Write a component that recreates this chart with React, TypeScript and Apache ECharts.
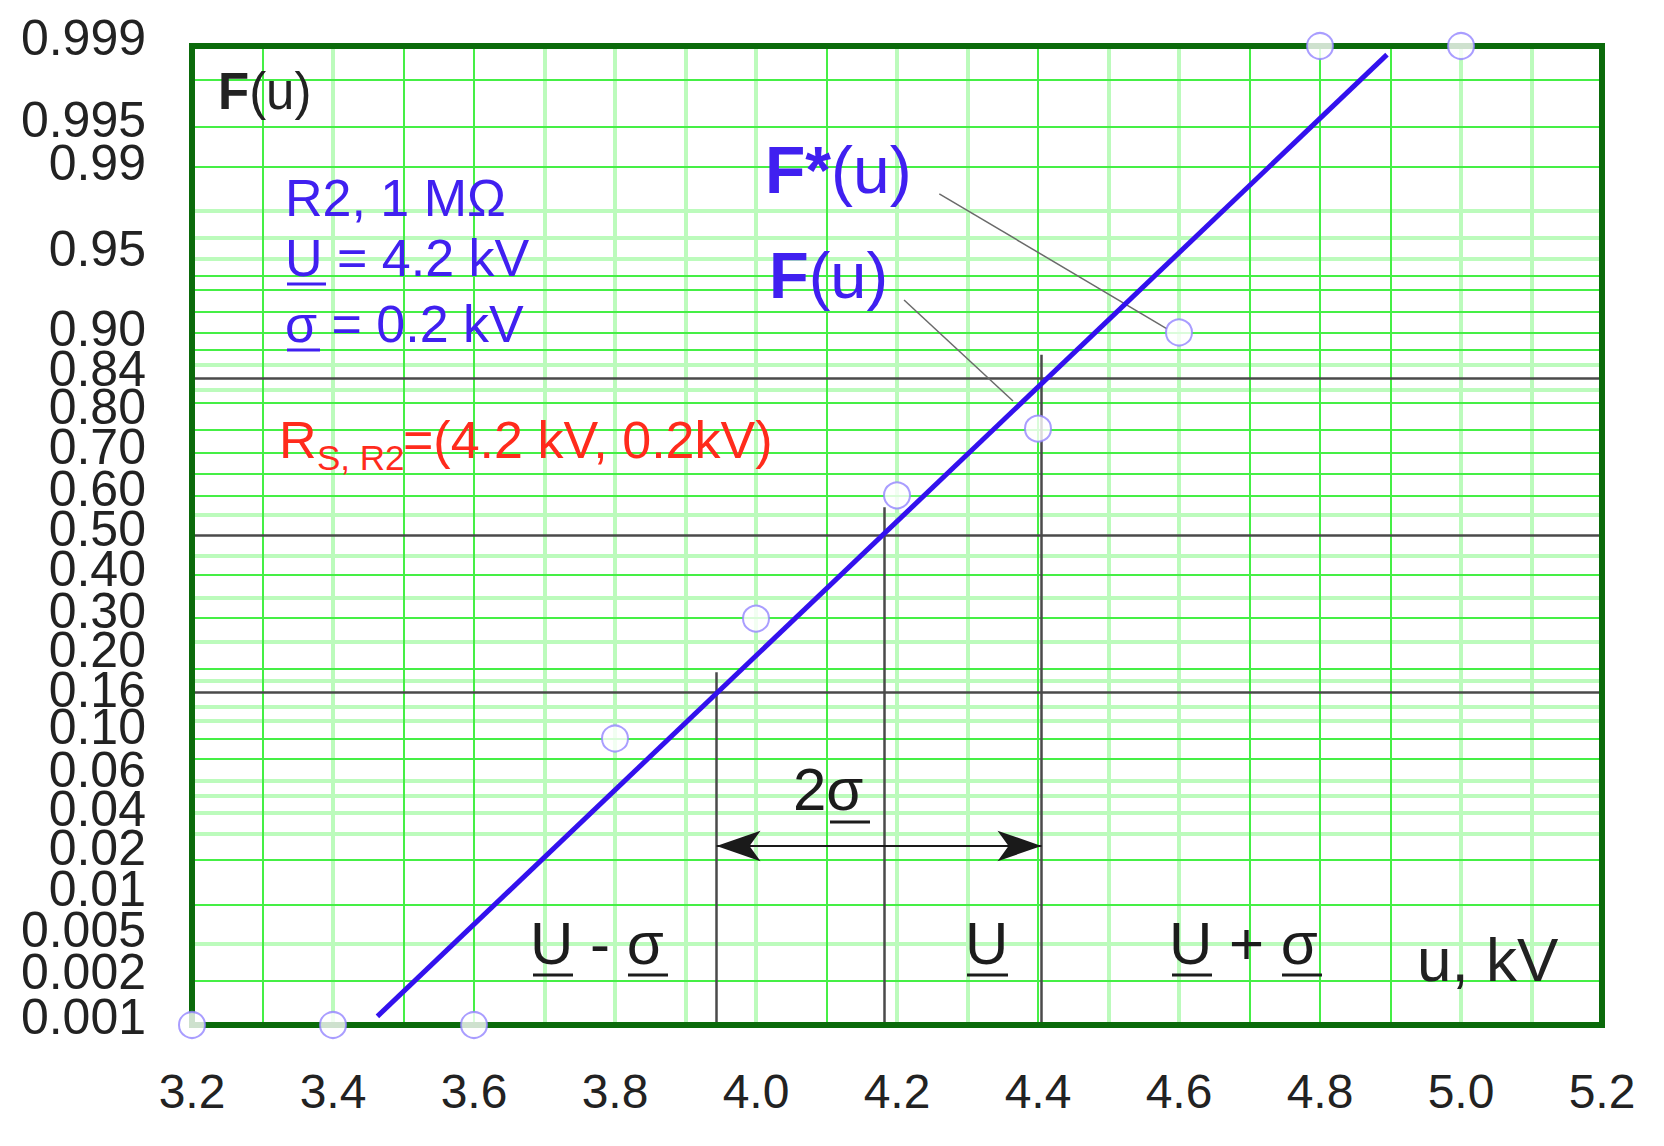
import React, { useEffect, useRef } from "react";
import * as echarts from "echarts";

// ---------- data ----------
const X_MIN = 3.2;
const X_MAX = 5.2;
const X_STEP = 0.2;

// measured points: voltage u (kV) and empirical probability F*(u)
const pointsU = [3.2, 3.4, 3.6, 3.8, 4.0, 4.2, 4.4, 4.6, 4.8, 5.0];
const pointsF = [0.001, 0.001, 0.001, 0.1, 0.3, 0.6, 0.75, 0.9, 0.999, 0.999];

// fitted line F(u): end points as drawn
const lineU = [3.463, 4.895];
const lineF = [0.0012, 0.9988];

// probability-paper range
const P_MIN = 0.001;
const P_MAX = 0.999;

// y tick labels (text) and where they are printed (probit units)
const yLabelText = ["0.999", "0.995", "0.99", "0.95", "0.90", "0.84", "0.80", "0.70", "0.60", "0.50", "0.40", "0.30", "0.20", "0.16", "0.10", "0.06", "0.04", "0.02", "0.01", "0.005", "0.002", "0.001"];
const yLabelZ = [3.0902, 2.623, 2.352, 1.809, 1.304, 1.051, 0.811, 0.559, 0.294, 0.041, -0.211, -0.476, -0.723, -0.975, -1.209, -1.48, -1.727, -1.973, -2.232, -2.491, -2.756, -3.04];

// horizontal grid lines (probabilities)
const hGridBright = [0.998, 0.995, 0.99, 0.95, 0.94, 0.92, 0.9, 0.88, 0.8, 0.75, 0.7, 0.65, 0.6, 0.4, 0.3, 0.2, 0.1, 0.08, 0.02, 0.01, 0.0025];
const hGridFaint = [0.98, 0.97, 0.96, 0.86, 0.82, 0.55, 0.45, 0.35, 0.25, 0.18, 0.14, 0.12, 0.06, 0.05, 0.04, 0.03, 0.005];
// vertical grid lines (kV)
const vGridBright = [3.3, 3.5, 3.6, 4.1, 4.4, 4.7, 4.8, 4.9];
const vGridFaint = [3.4, 3.7, 3.8, 3.9, 4.0, 4.2, 4.3, 4.5, 4.6, 5.0, 5.1];

// reference lines
const refHP = [0.84, 0.5, 0.16];
const refVU = [3.944, 4.182, 4.405]; // U - σ, U, U + σ as drawn
const refVTopP = [0.194, 0.571, 0.873];
const arrowP = 0.025;

// leader lines [u1, p1, u2, p2]
const leaderFstar = [4.26, 0.9845, 4.583, 0.904];
const leaderF = [4.21, 0.9315, 4.3645, 0.802];

// ---------- helpers ----------
function probit(p: number): number {
  const a = [-3.969683028665376e1, 2.209460984245205e2, -2.759285104469687e2, 1.38357751867269e2, -3.066479806614716e1, 2.506628277459239];
  const b = [-5.447609879822406e1, 1.615858368580409e2, -1.556989798598866e2, 6.680131188771972e1, -1.328068155288572e1];
  const c = [-7.784894002430293e-3, -3.223964580411365e-1, -2.400758277161838, -2.549732539343734, 4.374664141464968, 2.938163982698783];
  const d = [7.784695709041462e-3, 3.224671290700398e-1, 2.445134137142996, 3.754408661907416];
  const pl = 0.02425;
  if (p < pl) {
    const q = Math.sqrt(-2 * Math.log(p));
    return (((((c[0] * q + c[1]) * q + c[2]) * q + c[3]) * q + c[4]) * q + c[5]) / ((((d[0] * q + d[1]) * q + d[2]) * q + d[3]) * q + 1);
  }
  if (p <= 1 - pl) {
    const q = p - 0.5;
    const r = q * q;
    return ((((((a[0] * r + a[1]) * r + a[2]) * r + a[3]) * r + a[4]) * r + a[5]) * q) / (((((b[0] * r + b[1]) * r + b[2]) * r + b[3]) * r + b[4]) * r + 1);
  }
  const q = Math.sqrt(-2 * Math.log(1 - p));
  return -(((((c[0] * q + c[1]) * q + c[2]) * q + c[3]) * q + c[4]) * q + c[5]) / ((((d[0] * q + d[1]) * q + d[2]) * q + d[3]) * q + 1);
}

const FONT = "'Liberation Sans', Arial, Helvetica, sans-serif";
const FRAME = "#0b6a0b";
const BLUE = "#4020f0";
const LINE_BLUE = "#3311ee";
const RED = "#ff2b1c";
const DARK = "#1c1c1c";

const GRID_LEFT = 192;
const GRID_RIGHT = 62;
const GRID_TOP = 46;
const GRID_BOTTOM = 121;

function txt(x: number, y: number, text: string, size: number, color: string, weight = "normal") {
  return {
    type: "text",
    x,
    y,
    z: 30,
    silent: true,
    style: { text, fontSize: size, fontFamily: FONT, fontWeight: weight, fill: color, align: "left", verticalAlign: "middle" },
  };
}
function richTxt(x: number, y: number, text: string, size: number, color: string) {
  return {
    type: "text",
    x,
    y,
    z: 30,
    silent: true,
    style: {
      text,
      fill: color,
      align: "left",
      verticalAlign: "middle",
      fontSize: size,
      fontFamily: FONT,
      rich: {
        b: { fontSize: size, fontFamily: FONT, fontWeight: "bold", fill: color },
        n: { fontSize: size, fontFamily: FONT, fontWeight: "normal", fill: color },
      },
    },
  };
}
function uline(x1: number, x2: number, y: number, color: string, w = 3) {
  return { type: "line", z: 30, silent: true, shape: { x1, y1: y, x2, y2: y }, style: { stroke: color, lineWidth: w } };
}

export default function App() {
  const ref = useRef<HTMLDivElement>(null);

  useEffect(() => {
    if (!ref.current) return;
    const chart = echarts.init(ref.current, null, { renderer: "svg" });

    const yMin = probit(P_MIN);
    const yMax = probit(P_MAX);

    const labelFor = (v: number) => {
      let best = 0;
      for (let i = 1; i < yLabelZ.length; i++) {
        if (Math.abs(yLabelZ[i] - v) < Math.abs(yLabelZ[best] - v)) best = i;
      }
      const t = yLabelText[best];
      return best === 0 ? "{t|" + t + "}" : t;
    };

    // the crowded labels are split over two overlaid axes so that none is dropped
    const zEven = yLabelZ.filter((_, i) => i % 2 === 0);
    const zOdd = yLabelZ.filter((_, i) => i % 2 === 1);

    const hiddenAxisBits = {
      axisTick: { show: false },
      splitLine: { show: false },
      axisLabel: { show: false },
    };
    const frameLine = { show: true, onZero: false, lineStyle: { color: FRAME, width: 6, cap: "square" } };

    const yLabelStyle = (values: number[]) => ({
      customValues: values,
      showMinLabel: true,
      showMaxLabel: true,
      hideOverlap: false,
      margin: 46,
      fontSize: 50,
      color: "#222",
      fontFamily: FONT,
      formatter: labelFor,
      rich: { t: { fontSize: 50, color: "#222", fontFamily: FONT, padding: [0, 0, 17, 0] } },
    });

    const mlBase = { silent: true, symbol: "none", label: { show: false }, emphasis: { disabled: true }, animation: false };

    const option: any = {
      animation: false,
      backgroundColor: "#ffffff",
      grid: { left: GRID_LEFT, right: GRID_RIGHT, top: GRID_TOP, bottom: GRID_BOTTOM, outerBoundsMode: "none" },
      xAxis: [
        {
          type: "value",
          min: X_MIN,
          max: X_MAX,
          interval: X_STEP,
          position: "bottom",
          z: 10,
          axisLine: frameLine,
          axisTick: { show: false },
          splitLine: { show: false },
          axisLabel: { margin: 42, fontSize: 48, color: "#222", fontFamily: FONT, showMinLabel: true, showMaxLabel: true, formatter: (v: number) => v.toFixed(1) },
        },
        { type: "value", min: X_MIN, max: X_MAX, position: "top", z: 10, axisLine: frameLine, ...hiddenAxisBits },
      ],
      yAxis: [
        {
          type: "value",
          min: yMin,
          max: yMax,
          position: "left",
          offset: 0,
          z: 10,
          axisLine: frameLine,
          axisTick: { show: false },
          splitLine: { show: false },
          axisLabel: yLabelStyle(zEven),
        },
        { type: "value", min: yMin, max: yMax, position: "right", z: 10, axisLine: frameLine, ...hiddenAxisBits },
        {
          type: "value",
          min: yMin,
          max: yMax,
          position: "left",
          offset: 0,
          z: 10,
          axisLine: { show: false },
          axisTick: { show: false },
          splitLine: { show: false },
          axisLabel: yLabelStyle(zOdd),
        },
      ],
      series: [
        {
          name: "gridFaint",
          type: "line",
          data: [],
          z: 1,
          silent: true,
          markLine: {
            ...mlBase,
            lineStyle: { color: "#bcfbbc", width: 4, type: "solid" },
            data: [...hGridFaint.map((p) => ({ yAxis: probit(p) })), ...vGridFaint.map((u) => ({ xAxis: u }))],
          },
        },
        {
          name: "gridBright",
          type: "line",
          data: [],
          z: 2,
          silent: true,
          markLine: {
            ...mlBase,
            lineStyle: { color: "#45ef45", width: 2, type: "solid" },
            data: [...hGridBright.map((p) => ({ yAxis: probit(p) })), ...vGridBright.map((u) => ({ xAxis: u }))],
          },
        },
        {
          name: "refLines",
          type: "line",
          data: [],
          z: 3,
          silent: true,
          markLine: {
            ...mlBase,
            lineStyle: { color: "#4a4a4a", width: 2.5, type: "solid" },
            data: [
              ...refHP.map((p) => ({ yAxis: probit(p) })),
              ...refVU.map((u, i) => [{ coord: [u, yMin] }, { coord: [u, probit(refVTopP[i])] }]),
            ],
          },
        },
        {
          name: "leaders",
          type: "line",
          data: [],
          z: 4,
          silent: true,
          markLine: {
            ...mlBase,
            lineStyle: { color: "#6a6a6a", width: 1.5, type: "solid" },
            data: [leaderFstar, leaderF].map((l) => [{ coord: [l[0], probit(l[1])] }, { coord: [l[2], probit(l[3])] }]),
          },
        },
        {
          name: "arrow",
          type: "line",
          data: [],
          z: 4,
          silent: true,
          markLine: {
            ...mlBase,
            symbol: ["arrow", "arrow"],
            symbolSize: [23, 44],
            lineStyle: { color: "#1a1a1a", width: 2, type: "solid" },
            data: [[{ coord: [refVU[0], probit(arrowP)] }, { coord: [refVU[2], probit(arrowP)] }]],
          },
        },
        {
          name: "F(u)",
          type: "line",
          z: 11,
          silent: true,
          showSymbol: false,
          symbol: "none",
          lineStyle: { color: LINE_BLUE, width: 5 },
          data: lineU.map((u, i) => [u, probit(lineF[i])]),
        },
        {
          name: "F*(u)",
          type: "scatter",
          z: 12,
          clip: false,
          silent: true,
          symbol: "circle",
          symbolSize: 26,
          itemStyle: { color: "#ffffff", borderColor: "#9484ff", borderWidth: 2 },
          data: pointsU.map((u, i) => [u, probit(pointsF[i])]),
        },
      ],
      graphic: {
        elements: [
          richTxt(218, 91, "{b|F}{n|(u)}", 51, "#222"),
          txt(285, 198, "R2, 1 MΩ", 52, BLUE),
          txt(285, 258, "U = 4.2 kV", 52, BLUE),
          uline(287, 326, 284, BLUE),
          txt(285, 324, "σ = 0.2 kV", 52, BLUE),
          uline(287, 320, 350, BLUE),
          txt(279, 440, "R", 52, RED),
          txt(317, 457, "S, R2", 35, RED),
          txt(403, 440, "=(4.2 kV, 0.2kV)", 52, RED),
          richTxt(765, 170, "{b|F*}{n|(u)}", 66, BLUE),
          richTxt(769, 275, "{b|F}{n|(u)}", 65, BLUE),
          txt(793, 789, "2σ", 60, DARK),
          uline(830, 870, 822, DARK),
          txt(530, 943, "U - σ", 60, DARK),
          uline(533, 573, 975, DARK),
          uline(628, 668, 975, DARK),
          txt(965, 943, "U", 60, DARK),
          uline(967, 1008, 975, DARK),
          txt(1169, 943, "U + σ", 60, DARK),
          uline(1172, 1212, 975, DARK),
          uline(1282, 1322, 975, DARK),
          txt(1417, 959, "u, kV", 62, "#222"),
        ],
      },
    };

    chart.setOption(option);
    return () => chart.dispose();
  }, []);

  return <div ref={ref} style={{ position: "fixed", left: 0, top: 0, width: 1664, height: 1146, background: "#fff" }} />;
}
